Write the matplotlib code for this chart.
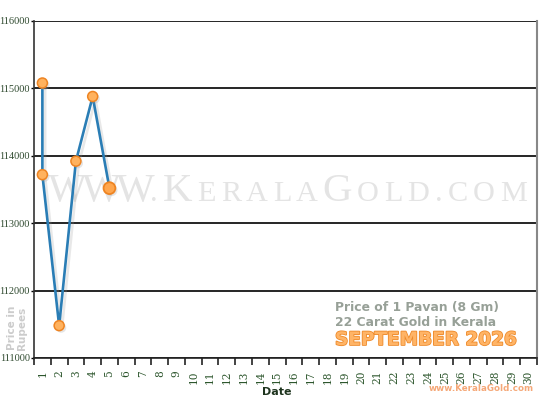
import matplotlib
matplotlib.use("Agg")
import matplotlib.pyplot as plt
import matplotlib.patheffects as pe
import numpy as np

# ---- data ----
days = [1, 1, 2, 3, 4, 5]
prices = [115080, 113720, 111480, 113920, 114880, 113520]
day_labels = [str(d) for d in range(1, 31)]
y_ticks = [111000, 112000, 113000, 114000, 115000, 116000]
title_lines = ["Price of 1 Pavan (8 Gm)", "22 Carat Gold in Kerala"]
month_label = "SEPTEMBER 2026"
site_label = "www.KeralaGold.com"
watermark_segments = [("WWW.", "WWW"), ("KERALA", "K"), ("GOLD.COM", "G")]

W, H = 550, 400
fig = plt.figure(figsize=(5.5, 4.0), dpi=100)
fig.patch.set_facecolor("white")
L, R, T, B = 34, 537, 21, 358
ax = fig.add_axes([L / W, (H - B) / H, (R - L) / W, (B - T) / H])

ax.set_xlim(0.5, 30.5)
ax.set_ylim(y_ticks[0], y_ticks[-1])

# watermark (small-caps look, drawn letter by letter with tracking)
fig.canvas.draw()
renderer = fig.canvas.get_renderer()
seg_spans = [(48, 158), (163, 318), (322, 527)]
base = 201
BIG, SMALL = 29.4, 21.8
for (word, bigs), (x0, x1) in zip(watermark_segments, seg_spans):
    chars = []
    nbig = len(bigs)
    for i, ch in enumerate(word):
        t = ax.text(0, (H - base) / H, ch, fontsize=BIG if i < nbig else SMALL,
                    family="Liberation Serif", color="#e4e4e4", ha="left",
                    va="baseline", zorder=0.5, transform=fig.transFigure)
        chars.append(t)
    widths = [c.get_window_extent(renderer).width for c in chars]
    extra = ((x1 - x0) - sum(widths)) / max(len(chars) - 1, 1)
    x = x0
    for c, w in zip(chars, widths):
        c.set_x(x / W)
        x += w + extra

# grid lines
for yv in y_ticks:
    ax.axhline(yv, color="black", lw=1.2, zorder=1)

# line with shadow
ax.plot(days, prices, color="#2a7db5", lw=1.9, zorder=3,
        path_effects=[pe.SimpleLineShadow(offset=(2, -2), shadow_color="#999999", alpha=0.22),
                      pe.Normal()])
ax.plot(days[:-1], prices[:-1], ls="none", marker="o", ms=7.2, mfc="#ffb25e",
        mec="#ee8422", mew=1.1, zorder=4,
        path_effects=[pe.SimplePatchShadow(offset=(1.5, -1.5), shadow_rgbFace="#999999", alpha=0.25),
                      pe.Normal()])
ax.plot(days[-1:], prices[-1:], ls="none", marker="o", ms=8.5, mfc="#ffa64d",
        mec="#ee8422", mew=1.3, zorder=4,
        path_effects=[pe.SimplePatchShadow(offset=(1.5, -1.5), shadow_rgbFace="#999999", alpha=0.25),
                      pe.Normal()])

# axes styling
ax.spines["top"].set_visible(False)
ax.spines["left"].set_color("#333333")
ax.spines["left"].set_linewidth(1.2)
ax.spines["bottom"].set_color("#222222")
ax.spines["bottom"].set_linewidth(1.2)
ax.spines["right"].set_color("#888888")
ax.spines["right"].set_linewidth(1.5)

ax.set_yticks(y_ticks)
ax.set_yticklabels([str(v) for v in y_ticks], family="Liberation Serif", fontsize=7.5,
                   color="#2f4a2f")
ax.tick_params(axis="y", length=2.5, width=1, pad=0.5, color="black")

ax.set_xticks(np.arange(0.5, 31, 1))
ax.set_xticklabels([])
ax.tick_params(axis="x", which="major", length=5, width=1.2, color="#222222")
ax.set_xticks(np.arange(1, 31), minor=True)
ax.set_xticklabels(day_labels, minor=True, rotation=90, family="DejaVu Serif",
                   fontsize=7.6, color="#2a542a")
ax.tick_params(axis="x", which="minor", length=0, pad=9)

fig.text(277 / W, (H - 392) / H, "Date", ha="center", va="center", fontsize=8,
         fontweight="bold", color="#1e341e", family="DejaVu Sans")
fig.text(17 / W, (H - 328) / H, "Price in\nRupees", ha="center", va="center",
         rotation=90, fontsize=7.5, fontweight="bold", color="#cccccc",
         family="DejaVu Sans", linespacing=1.0)

# legend texts
fig.text(335 / W, (H - 311) / H, title_lines[0], ha="left", va="baseline", fontsize=8.9,
         fontweight="bold", color="#97a097", family="DejaVu Sans")
fig.text(335 / W, (H - 325.5) / H, title_lines[1], ha="left", va="baseline", fontsize=8.9,
         fontweight="bold", color="#97a097", family="DejaVu Sans")
fig.text(335 / W, (H - 345) / H, month_label, ha="left", va="baseline", fontsize=13.3,
         fontweight="bold", color="#ffb466", family="DejaVu Sans",
         path_effects=[pe.Stroke(linewidth=1.2, foreground="#ee8a2a"), pe.Normal()])
fig.text(534 / W, (H - 391) / H, site_label, ha="right", va="baseline", fontsize=6.3,
         fontweight="bold", color="#f5a878", family="DejaVu Sans")

fig.savefig("out.png", dpi=100)
